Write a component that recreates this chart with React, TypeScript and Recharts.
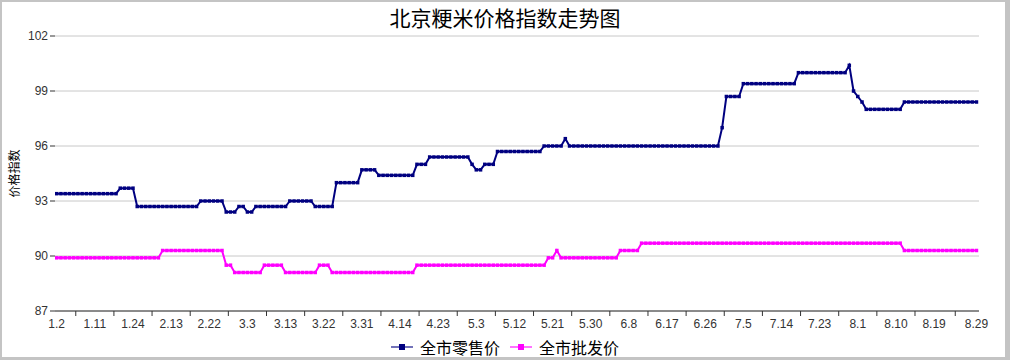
import React from 'react';
import { LineChart, Line, XAxis, YAxis, CartesianGrid, Legend } from 'recharts';

// 全市零售价 (one value per trading day)
const retail = [
  93.4, 93.4, 93.4, 93.4, 93.4, 93.4, 93.4, 93.4, 93.4, 93.4, 93.4, 93.4, 93.4, 93.4, 93.4,
  93.7, 93.7, 93.7, 93.7,
  92.7, 92.7, 92.7, 92.7, 92.7, 92.7, 92.7, 92.7, 92.7, 92.7, 92.7, 92.7, 92.7, 92.7, 92.7,
  93.0, 93.0, 93.0, 93.0, 93.0, 93.0,
  92.4, 92.4, 92.4,
  92.7, 92.7,
  92.4, 92.4,
  92.7, 92.7, 92.7, 92.7, 92.7, 92.7, 92.7, 92.7,
  93.0, 93.0, 93.0, 93.0, 93.0, 93.0,
  92.7, 92.7, 92.7, 92.7, 92.7,
  94.0, 94.0, 94.0, 94.0, 94.0, 94.0,
  94.7, 94.7, 94.7, 94.7,
  94.4, 94.4, 94.4, 94.4, 94.4, 94.4, 94.4, 94.4, 94.4,
  95.0, 95.0, 95.0,
  95.4, 95.4, 95.4, 95.4, 95.4, 95.4, 95.4, 95.4, 95.4, 95.4,
  95.0, 94.7, 94.7, 95.0, 95.0, 95.0,
  95.7, 95.7, 95.7, 95.7, 95.7, 95.7, 95.7, 95.7, 95.7, 95.7, 95.7,
  96.0, 96.0, 96.0, 96.0, 96.0, 96.4,
  96.0, 96.0, 96.0, 96.0, 96.0, 96.0, 96.0, 96.0, 96.0, 96.0, 96.0, 96.0,
  96.0, 96.0, 96.0, 96.0, 96.0, 96.0, 96.0, 96.0, 96.0, 96.0, 96.0, 96.0,
  96.0, 96.0, 96.0, 96.0, 96.0, 96.0, 96.0, 96.0, 96.0, 96.0, 96.0, 96.0,
  97.0, 98.7, 98.7, 98.7, 98.7,
  99.4, 99.4, 99.4, 99.4, 99.4, 99.4, 99.4, 99.4, 99.4, 99.4, 99.4, 99.4, 99.4,
  100.0, 100.0, 100.0, 100.0, 100.0, 100.0, 100.0, 100.0, 100.0, 100.0, 100.0, 100.0,
  100.4, 99.0, 98.7, 98.4,
  98.0, 98.0, 98.0, 98.0, 98.0, 98.0, 98.0, 98.0, 98.0,
  98.4, 98.4, 98.4, 98.4, 98.4, 98.4, 98.4, 98.4, 98.4,
  98.4, 98.4, 98.4, 98.4, 98.4, 98.4, 98.4, 98.4, 98.4,
];

// 全市批发价
const wholesale = [
  89.9, 89.9, 89.9, 89.9, 89.9, 89.9, 89.9, 89.9, 89.9, 89.9, 89.9, 89.9, 89.9,
  89.9, 89.9, 89.9, 89.9, 89.9, 89.9, 89.9, 89.9, 89.9, 89.9, 89.9, 89.9,
  90.3, 90.3, 90.3, 90.3, 90.3, 90.3, 90.3, 90.3, 90.3, 90.3, 90.3, 90.3, 90.3, 90.3, 90.3,
  89.5, 89.5,
  89.1, 89.1, 89.1, 89.1, 89.1, 89.1, 89.1,
  89.5, 89.5, 89.5, 89.5, 89.5,
  89.1, 89.1, 89.1, 89.1, 89.1, 89.1, 89.1, 89.1,
  89.5, 89.5, 89.5,
  89.1, 89.1, 89.1, 89.1, 89.1, 89.1, 89.1, 89.1, 89.1, 89.1,
  89.1, 89.1, 89.1, 89.1, 89.1, 89.1, 89.1, 89.1, 89.1, 89.1,
  89.5, 89.5, 89.5, 89.5, 89.5, 89.5, 89.5, 89.5, 89.5, 89.5,
  89.5, 89.5, 89.5, 89.5, 89.5, 89.5, 89.5, 89.5, 89.5, 89.5,
  89.5, 89.5, 89.5, 89.5, 89.5, 89.5, 89.5, 89.5, 89.5, 89.5, 89.5,
  89.9, 89.9, 90.3,
  89.9, 89.9, 89.9, 89.9, 89.9, 89.9, 89.9, 89.9, 89.9, 89.9, 89.9, 89.9, 89.9, 89.9,
  90.3, 90.3, 90.3, 90.3, 90.3,
  90.7, 90.7, 90.7, 90.7, 90.7, 90.7, 90.7, 90.7, 90.7, 90.7,
  90.7, 90.7, 90.7, 90.7, 90.7, 90.7, 90.7, 90.7, 90.7, 90.7,
  90.7, 90.7, 90.7, 90.7, 90.7, 90.7, 90.7, 90.7, 90.7, 90.7,
  90.7, 90.7, 90.7, 90.7, 90.7, 90.7, 90.7, 90.7, 90.7, 90.7,
  90.7, 90.7, 90.7, 90.7, 90.7, 90.7, 90.7, 90.7, 90.7, 90.7,
  90.7, 90.7, 90.7, 90.7, 90.7, 90.7, 90.7, 90.7, 90.7, 90.7,
  90.7, 90.7,
  90.3, 90.3, 90.3, 90.3, 90.3, 90.3, 90.3, 90.3, 90.3,
  90.3, 90.3, 90.3, 90.3, 90.3, 90.3, 90.3, 90.3, 90.3,
];

// x-axis labels and the day index they sit on
const tickLabels = [
  '1.2', '1.11', '1.24', '2.13', '2.22', '3.3', '3.13', '3.22', '3.31', '4.14', '4.23', '5.3', '5.12',
  '5.21', '5.30', '6.8', '6.17', '6.26', '7.5', '7.14', '7.23', '8.1', '8.10', '8.19', '8.29',
];
const tickIndex = [
  0, 9, 18, 27, 36, 45, 54, 63, 72, 81, 90, 99, 108,
  117, 126, 135, 144, 153, 162, 171, 180, 189, 198, 207, 217,
];
const yTicks = [87, 90, 93, 96, 99, 102];
const seriesOrder = ['retail', 'wholesale'];

const data = retail.map((v, i) => ({ i, retail: v, wholesale: wholesale[i] }));
const markIndex = tickIndex.slice(1).map((v, k) => (v + tickIndex[k]) / 2);
const labelOf = new Map(tickIndex.map((v, k) => [v, tickLabels[k]]));

const FONT = '"Liberation Sans", Arial, "Noto Sans CJK SC", sans-serif';
const CJK = '"Noto Sans CJK SC", sans-serif';

const squareDot = (color: string) => (props: any) => {
  const { cx, cy, index } = props;
  if (cx == null || cy == null) return <g key={index} />;
  return <rect key={index} x={cx - 1.75} y={cy - 1.75} width={3.5} height={3.5} fill={color} />;
};

// labels sit on days, small tick marks sit between labels
const XTick = (props: any) => {
  const { x, y, payload } = props;
  const label = labelOf.get(payload.value);
  if (label === undefined) {
    return <line x1={x} x2={x} y1={y} y2={y + 5} stroke="#333" strokeWidth={1} />;
  }
  return (
    <text x={x} y={y + 17} textAnchor="middle" fontSize={12} fill="#333" fontFamily={FONT}>
      {label}
    </text>
  );
};

const LegendContent = (props: any) => {
  const items = [...(props.payload || [])].sort(
    (a: any, b: any) => seriesOrder.indexOf(a.dataKey) - seriesOrder.indexOf(b.dataKey)
  );
  return (
    <div style={{ display: 'flex', justifyContent: 'center', alignItems: 'center', fontFamily: CJK, fontSize: 16, color: '#000', lineHeight: '20px' }}>
      {items.map((it: any, k: number) => (
        <div key={k} style={{ display: 'flex', alignItems: 'center', marginLeft: k ? 10 : 0 }}>
          <svg width={22} height={8} style={{ marginRight: 7 }}>
            <line x1={0} x2={22} y1={4} y2={4} stroke={it.color} strokeWidth={2} strokeOpacity={0.55} />
            <rect x={8} y={1} width={6} height={6} fill={it.color} />
          </svg>
          <span>{it.value}</span>
        </div>
      ))}
    </div>
  );
};

export default function App() {
  return (
    <div style={{ position: 'absolute', left: 0, top: 0, width: 1010, height: 360, background: '#c4c4c4' }}>
      <div style={{ position: 'absolute', left: 2, top: 2, width: 1003, height: 355, background: '#fff' }} />
      <div style={{ position: 'absolute', left: 0, top: 3, width: 1010, textAlign: 'center', fontFamily: CJK, fontSize: 21, lineHeight: '28px', color: '#000' }}>
        北京粳米价格指数走势图
      </div>
      <div style={{ position: 'absolute', left: 0, top: 0 }}>
        <LineChart width={1010} height={360} data={data} margin={{ top: 36, right: 31, bottom: 19, left: 10 }} style={{ fontFamily: FONT }}>
          <CartesianGrid vertical={false} stroke="#c8c8c8" />
          <XAxis
            dataKey="i"
            type="number"
            domain={[-0.4, 217.6]}
            allowDataOverflow
            ticks={[...tickIndex, ...markIndex]}
            interval={0}
            tickSize={0}
            tickMargin={0}
            tickLine={false}
            tick={<XTick />}
            axisLine={{ stroke: '#333' }}
            height={30}
          />
          <YAxis
            domain={[87, 102]}
            ticks={yTicks}
            interval={0}
            allowDataOverflow
            axisLine={false}
            tickLine={{ stroke: '#333' }}
            tickSize={5}
            tickMargin={2}
            tick={{ fontSize: 12, fill: '#333' }}
            width={45}
            label={({ viewBox }: any) => (
              <text
                x={viewBox.x + 3}
                y={viewBox.y + viewBox.height / 2}
                transform={`rotate(-90 ${viewBox.x + 3} ${viewBox.y + viewBox.height / 2})`}
                textAnchor="middle"
                dominantBaseline="central"
                fontSize={12}
                fill="#000"
                fontFamily={CJK}
              >
                价格指数
              </text>
            )}
          />
          <Legend
            layout="vertical"
            align="center"
            verticalAlign="middle"
            itemSorter={null}
            wrapperStyle={{ left: 0, top: 337, width: 1010 }}
            content={<LegendContent />}
          />
          <Line
            type="linear"
            dataKey="retail"
            name="全市零售价"
            stroke="#000080"
            strokeWidth={2}
            dot={squareDot('#000080')}
            activeDot={false}
            isAnimationActive={false}
          />
          <Line
            type="linear"
            dataKey="wholesale"
            name="全市批发价"
            stroke="#ff00ff"
            strokeWidth={2}
            dot={squareDot('#ff00ff')}
            activeDot={false}
            isAnimationActive={false}
          />
        </LineChart>
      </div>
    </div>
  );
}
